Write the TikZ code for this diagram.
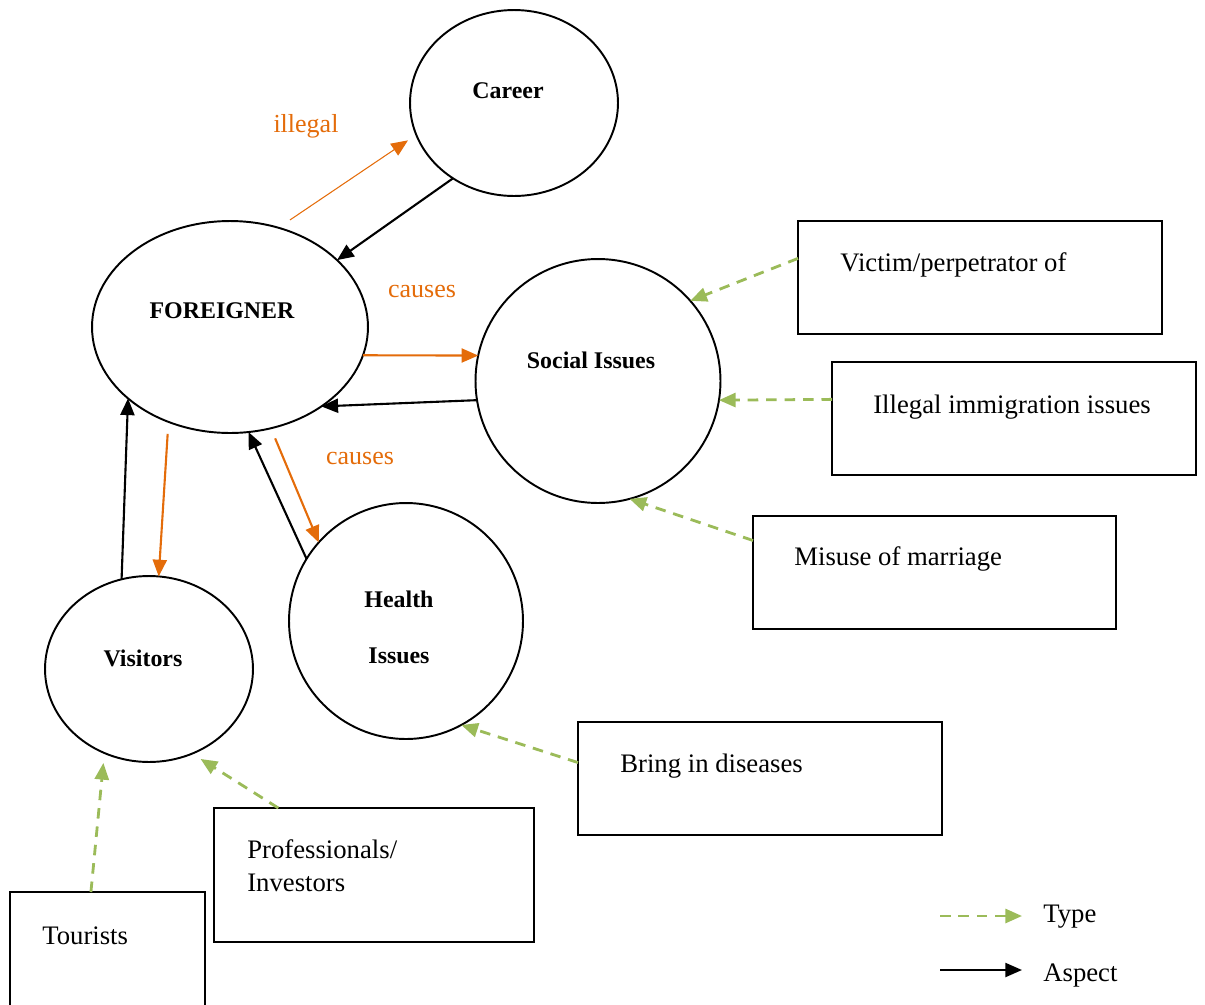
\documentclass[tikz,border=0pt]{standalone}
\usepackage{fontspec}
\setmainfont{Liberation Serif}
\usetikzlibrary{shapes.geometric,arrows.meta}
\definecolor{accorange}{RGB}{228,108,10}
\definecolor{typegreen}{RGB}{155,187,89}
\begin{document}
\begin{tikzpicture}[x=0.02cm,y=-0.02cm,
  bubble/.style={draw, ellipse, line width=1.1pt, inner sep=0pt, outer sep=0pt},
  typebox/.style={draw, rectangle, line width=1.1pt, inner sep=0pt, outer sep=0pt},
  boxtext/.style={anchor=base west, inner sep=0pt, font=\fontsize{15.2}{18}\selectfont},
  bubbletext/.style={inner sep=0pt, font=\fontsize{13.6}{16}\selectfont\bfseries},
  note/.style={anchor=base, inner sep=0pt, text=accorange, font=\fontsize{14.8}{18}\selectfont},
  tip/.style={-{Triangle[length=9.5pt,width=8pt]}},
  aspect/.style={tip, draw=black, line width=1.2pt},
  causal/.style={tip, draw=accorange, line width=1.2pt},
  typelink/.style={tip, draw=typegreen, line width=1.6pt, dash pattern=on 6pt off 4.5pt},
]
\clip (0,0) rectangle (1205,1005);

% central concept and its aspects
\node[bubble, minimum width=4.16cm, minimum height=3.72cm] (career) at (514,103) {};
\node[bubble, minimum width=5.52cm, minimum height=4.24cm] (foreigner) at (230,327) {};
\node[bubble, minimum width=4.90cm, minimum height=4.88cm] (social) at (598,381) {};
\node[bubble, minimum width=4.68cm, minimum height=4.72cm] (health) at (406,621) {};
\node[bubble, minimum width=4.16cm, minimum height=3.72cm] (visitors) at (149,669) {};

\node[bubbletext] (careertxt) at (508,91) {Career};
\node[bubbletext] (foreignertxt) at (222,311) {FOREIGNER};
\node[bubbletext] (socialtxt) at (591,360) {Social Issues};
\node[bubbletext, anchor=base] (healthtxtA) at (399,607) {Health};
\node[bubbletext, anchor=base] (healthtxtB) at (399,663) {Issues};
\node[bubbletext] (visitorstxt) at (143,658) {Visitors};

% type boxes
\node[typebox, minimum width=7.28cm, minimum height=2.26cm] (victim) at (980,277.5) {};
\node[typebox, minimum width=7.28cm, minimum height=2.26cm] (immig) at (1014,418.5) {};
\node[typebox, minimum width=7.26cm, minimum height=2.26cm] (misuse) at (934.5,572.5) {};
\node[typebox, minimum width=7.28cm, minimum height=2.26cm] (bring) at (760,778.5) {};
\node[typebox, minimum width=6.40cm, minimum height=2.68cm] (prof) at (374,875) {};
\node[typebox, minimum width=3.90cm, minimum height=2.66cm] (tourists) at (107.5,958.5) {};

\node[boxtext] (victimtxt) at (840,271) {Victim/perpetrator of};
\node[boxtext] (immigtxt) at (873,413) {Illegal immigration issues};
\node[boxtext] (misusetxt) at (794,565) {Misuse of marriage};
\node[boxtext] (bringtxt) at (620,772) {Bring in diseases};
\node[boxtext] (proftxtA) at (247,858) {Professionals/};
\node[boxtext] (proftxtB) at (247,891) {Investors};
\node[boxtext] (touriststxt) at (42,944) {Tourists};

% relation labels
\node[note] (illegaltxt) at (306,132) {illegal};
\node[note] (causestxtA) at (422,297) {causes};
\node[note] (causestxtB) at (360,464) {causes};

% aspect connectors (black) and causal connectors (orange)
\draw[causal, line width=0.6pt, shorten <=0.28cm, shorten >=0.2cm] (foreigner.64.1) -- (career.198.4);
\draw[aspect] (career.231.4) -- (foreigner.32.5);
\draw[causal] (foreigner.-12) -- (social.168);
\draw[aspect] (social.189.3) -- (foreigner.-41.6);
\draw[causal, shorten <=0.24cm] (foreigner.237.3) -- (visitors.84.5);
\draw[aspect] (visitors.107.1) -- (foreigner.215.4);
\draw[aspect] (health.148.5) -- (foreigner.280.7);
\draw[causal, shorten <=0.22cm] (foreigner.292.6) -- (health.138.4);

% type connectors
\draw[typelink] (victim.174.8) -- (social.41.4);
\draw[typelink] (immig.174.5) -- (social.-9.2);
\draw[typelink] (misuse.170.8) -- (social.-75.3);
\draw[typelink] (bring.175.1) -- (health.-62.8);
\draw[typelink, shorten >=0.2cm] (prof.145.1) -- (visitors.-63.4);
\draw[typelink, shorten >=0.2cm] (tourists.104.5) -- (visitors.242.7);

% legend
\coordinate (typeA) at (940,916);
\coordinate (typeB) at (1022,916);
\coordinate (aspectA) at (940,970);
\coordinate (aspectB) at (1022,970);
\draw[typelink] (typeA) -- (typeB);
\draw[aspect] (aspectA) -- (aspectB);
\node[boxtext] (typetxt) at (1043,922) {Type};
\node[boxtext] (aspecttxt) at (1043,981) {Aspect};
\end{tikzpicture}
\end{document}
